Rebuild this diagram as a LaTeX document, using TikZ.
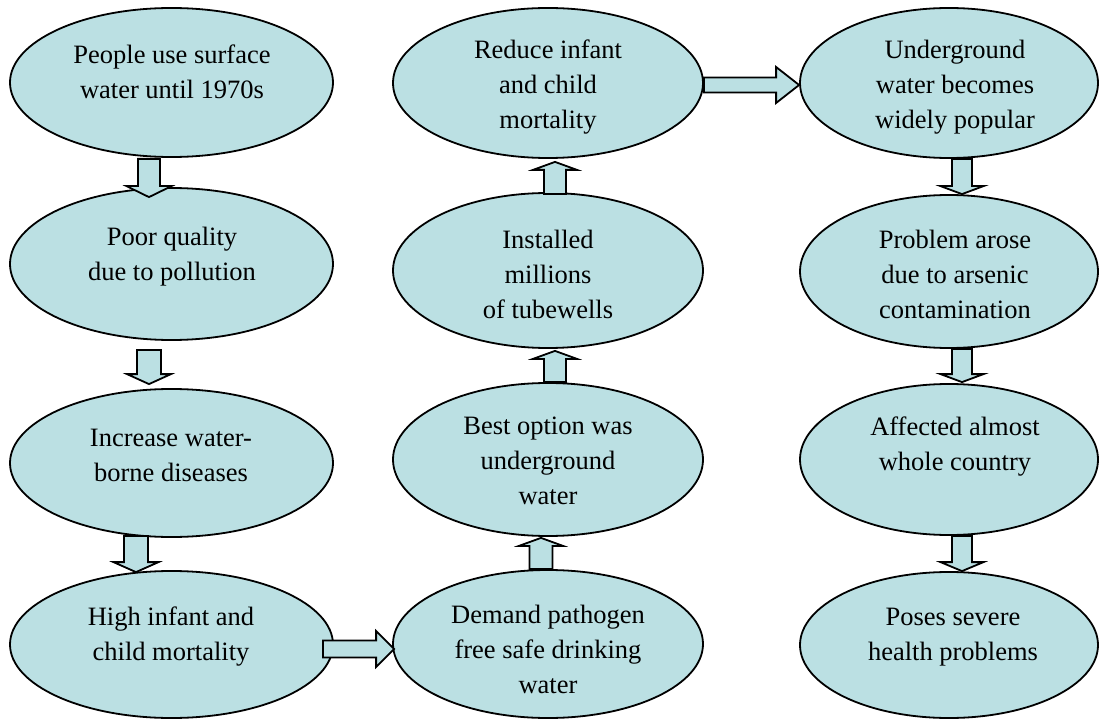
\documentclass[tikz,border=0pt]{standalone}
\usepackage{fontspec}
\setmainfont{Liberation Serif}
\usetikzlibrary{shapes.geometric,calc}
\definecolor{bub}{HTML}{BBE0E3}
\begin{document}
\begin{tikzpicture}[x=1pt,y=-1pt,
  ell/.style={ellipse, draw=black, line width=1.8pt, fill=bub, inner sep=0pt},
  txt/.style={align=center, font=\fontsize{26.5}{35}\selectfont, inner sep=0pt},
  blk/.style args={#1/#2/#3}{draw=black, line width=1.8pt, fill=bub, line join=miter,
    to path={let \p1=(\tikztostart), \p2=(\tikztotarget),
      \n1={atan2(\y2-\y1,\x2-\x1)}, \n2={veclen(\x2-\x1,\y2-\y1)-#3pt} in
      ($(\p1)+(\n1-90:#1pt)$)
      -- ($(\p1)+(\n1:\n2)+(\n1-90:#1pt)$)
      -- ($(\p1)+(\n1:\n2)+(\n1-90:#2pt)$)
      -- (\p2)
      -- ($(\p1)+(\n1:\n2)+(\n1+90:#2pt)$)
      -- ($(\p1)+(\n1:\n2)+(\n1+90:#1pt)$)
      -- ($(\p1)+(\n1+90:#1pt)$) -- cycle}}
]
\useasboundingbox (0,0) rectangle (1106,722);

% column 1
\node[ell, minimum width=323pt, minimum height=149pt] (e1) at (171.5,82.5) {};
\node[ell, minimum width=323pt, minimum height=152pt] (e2) at (171.5,264) {};
\node[ell, minimum width=323pt, minimum height=148pt] (e3) at (171.5,463) {};
\node[ell, minimum width=323pt, minimum height=147pt] (e4) at (171.5,644.5) {};
% column 2
\node[ell, minimum width=310pt, minimum height=150pt] (e5) at (548,83) {};
\node[ell, minimum width=310pt, minimum height=155pt] (e6) at (548,270.5) {};
\node[ell, minimum width=310pt, minimum height=153pt] (e7) at (548,459.5) {};
\node[ell, minimum width=310pt, minimum height=148pt] (e8) at (548,644) {};
% column 3
\node[ell, minimum width=298pt, minimum height=150pt] (e9) at (949,83) {};
\node[ell, minimum width=298pt, minimum height=153pt] (e10) at (949,271.5) {};
\node[ell, minimum width=298pt, minimum height=151pt] (e11) at (949,459.5) {};
\node[ell, minimum width=298pt, minimum height=146pt] (e12) at (949,645) {};

% texts
\node[txt] (t1) at (172,72) {People use surface\\water until 1970s};
\node[txt] (t2) at (172,257) {Poor quality\\due to pollution};
\node[txt] (t3) at (171,455) {Increase water-\\borne diseases};
\node[txt] (t4) at (171,637) {High infant and\\child mortality};
\node[txt] (t5) at (548,87) {Reduce infant\\and child\\mortality};
\node[txt] (t6) at (548,274) {Installed\\millions\\of tubewells};
\node[txt] (t7) at (548,461) {Best option was\\underground\\water};
\node[txt] (t8) at (548,649) {Demand pathogen\\free safe drinking\\water};
\node[txt] (t9) at (955,87) {Underground\\water becomes\\widely popular};
\node[txt] (t10) at (955,274) {Problem arose\\due to arsenic\\contamination};
\node[txt] (t11) at (955,447) {Affected almost\\whole country};
\node[txt] (t12) at (953,637) {Poses severe\\health problems};

% block arrows
\draw[blk=11/22.5/11] ($(e1.south)+(-22.5,1)$) to ($(e2.north)+(-22.5,10)$);
\draw[blk=12/22/10] ($(e2.south)+(-22.5,9)$) to ($(e3.north)+(-22.5,-4)$);
\draw[blk=12/22.5/10] ($(e3.south)+(-35.5,-2)$) to ($(e4.north)+(-35.5,2)$);
\draw[blk=8.5/18/18] ($(e4.east)+(-11,4.5)$) to ($(e8.west)+(2,5)$);
\draw[blk=11.5/22/8] ($(e8.north)+(-7,0)$) to ($(e7.south)+(-7,1)$);
\draw[blk=11/22/8] ($(e7.north)+(7,0)$) to ($(e6.south)+(7,2)$);
\draw[blk=11/22/8] ($(e6.north)+(7,2)$) to ($(e5.south)+(7,3)$);
\draw[blk=7.5/18/23] ($(e5.east)+(0,2)$) to ($(e9.west)+(0,2)$);
\draw[blk=10/21.5/8] ($(e9.south)+(13,0)$) to ($(e10.north)+(13,0)$);
\draw[blk=10/21.5/8] ($(e10.south)+(13,0)$) to ($(e11.north)+(13,-1)$);
\draw[blk=10/21.5/9] ($(e11.south)+(13,0)$) to ($(e12.north)+(13,0)$);
\end{tikzpicture}
\end{document}
